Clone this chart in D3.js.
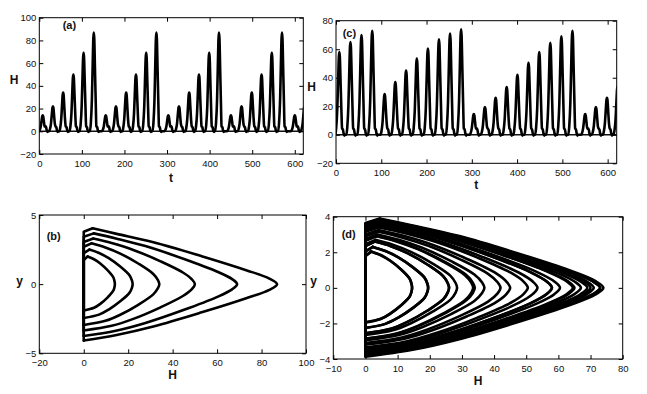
<!DOCTYPE html>
<html>
<head>
<meta charset="UTF-8">
<title>H time series and phase plots</title>
<script src="https://d3js.org/d3.v7.min.js"></script>
<style>
  body { margin: 0; background: #fff; }
  svg { display: block; font-family: "Liberation Sans", Arial, sans-serif; }
  .tick text { font-size: 9.5px; fill: #111; }
  .tick line { stroke: #000; stroke-width: 1; }
  .lab { font-size: 12px; font-weight: bold; fill: #111; }
  .tag { font-size: 11px; font-weight: bold; fill: #111; }
  .trace { fill: none; stroke: #000; stroke-width: 2.6; stroke-linejoin: round; stroke-linecap: round; }
</style>
</head>
<body>
<svg width="647" height="394"></svg>
<script>
// (a) spike times and peak heights of H
const aTimes = [8, 32, 56, 80, 104, 128, 156, 180, 204, 227, 251, 275,
                303, 328, 352, 375, 399, 422, 450, 475, 499, 522, 546, 570, 600, 623];
const aPeaks = [14, 22, 34, 50, 69, 87, 14, 22, 34, 50, 69, 87,
                14, 22, 34, 50, 69, 87, 14, 22, 34, 50, 69, 87, 14, 22];

// (c) spike times and peak heights of H
const cTimes = [7.4, 31.9, 56.3, 80, 107.4, 131, 154.8, 178.5, 203, 227.4, 251.9, 276.3,
                304.4, 328.9, 352.6, 377, 400.7, 425.2, 448.9, 473.3, 497.8, 522.2,
                550.4, 574, 598.5, 622];
const cPeaks = [58, 65, 70, 73, 28.5, 37, 45, 53.5, 60.5, 67, 71, 74,
                14.5, 19.5, 26, 33.5, 42, 50.5, 58, 64.5, 69, 73, 14.5, 19.5, 26, 34];

// (b) loops: peak H, highest y, lowest y
const bPeaks = [14, 22, 34, 50, 69, 87];
const bTop = [2.0, 2.5, 2.95, 3.3, 3.67, 4.04];
const bBot = [-1.9, -2.45, -2.95, -3.35, -3.75, -4.08];

// (d) loops, one per spike of (c)
const dTop = [3.55, 3.7, 3.8, 3.86, 2.7, 3.0, 3.25, 3.45, 3.6, 3.72, 3.82, 3.9,
              2.03, 2.3, 2.6, 2.9, 3.15, 3.4, 3.55, 3.7, 3.78, 3.86, 2.05, 2.3, 2.6, 2.92];
const dBot = [-3.5, -3.65, -3.75, -3.82, -2.65, -2.95, -3.2, -3.4, -3.55, -3.68, -3.78, -3.87,
              -1.93, -2.25, -2.55, -2.85, -3.1, -3.35, -3.5, -3.62, -3.72, -3.82, -1.95, -2.25, -2.55, -2.87];

// spike shape: offsets from the peak time, fraction of the peak
const spikeDt = [-9, -7, -4.5, -2.8, -1.1, 0, 1.1, 2.8, 4.5];
const spikeFrac = [0, 0.08, 0.32, 0.64, 0.94, 1, 0.94, 0.62, 0.3];
// small shoulder after each spike (absolute H)
const tailDt = [6, 8, 9.5, 11, 12.5];
const tailH = [4.5, 3.5, 0.8, -0.6, 0];

// loop shape: |y| as fraction of the extreme y, H as fraction of the peak
const loopS = [0, 0.1, 0.25, 0.5, 0.75, 0.9, 1];
const loopRound = [1, 0.99, 0.95, 0.77, 0.53, 0.33, 0.124];   // small loops
const loopSharp = [1, 0.96, 0.84, 0.61, 0.36, 0.17, 0.046];   // large loops

const xTicksT = [0, 100, 200, 300, 400, 500, 600];

const svg = d3.select("svg");

const panels = {
  a: {left: 39.3, top: 17.7, w: 264, h: 136.3, x: [0, 620], y: [-20, 100],
      xt: xTicksT, yt: [-20, 0, 20, 40, 60, 80, 100]},
  b: {left: 39.3, top: 215, w: 266.7, h: 138.3, x: [-20, 100], y: [-5, 5],
      xt: [-20, 0, 20, 40, 60, 80, 100], yt: [-5, 0, 5]},
  c: {left: 336, top: 20.7, w: 280.7, h: 142.6, x: [0, 620], y: [-20, 80],
      xt: xTicksT, yt: [-20, 0, 20, 40, 60, 80]},
  d: {left: 333.3, top: 216.7, w: 289.4, h: 142.3, x: [-10, 80], y: [-4, 4],
      xt: [-10, 0, 10, 20, 30, 40, 50, 60, 70, 80], yt: [-4, -2, 0, 2, 4]}
};

function setup(key) {
  const p = panels[key];
  const g = svg.append("g").attr("transform", `translate(${p.left},${p.top})`);
  p.g = g;
  p.sx = d3.scaleLinear().domain(p.x).range([0, p.w]);
  p.sy = d3.scaleLinear().domain(p.y).range([p.h, 0]);

  g.append("clipPath").attr("id", "clip-" + key)
    .append("rect").attr("width", p.w).attr("height", p.h);
  p.plot = g.append("g").attr("clip-path", `url(#clip-${key})`);

  const ax = [
    d3.axisBottom(p.sx).tickValues(p.xt).tickSize(-4).tickPadding(5.8),
    d3.axisTop(p.sx).tickValues(p.xt).tickSize(-4).tickFormat(""),
    d3.axisLeft(p.sy).tickValues(p.yt).tickSize(-4).tickPadding(3),
    d3.axisRight(p.sy).tickValues(p.yt).tickSize(-4).tickFormat("")
  ];
  const pos = [[0, p.h], [0, 0], [0, 0], [p.w, 0]];
  ax.forEach((a, i) => {
    const ag = g.append("g").attr("transform", `translate(${pos[i][0]},${pos[i][1]})`).call(a);
    ag.select(".domain").remove();
  });
  g.append("rect").attr("width", p.w).attr("height", p.h)
    .attr("fill", "none").attr("stroke", "#000").attr("stroke-width", 1);
  return p;
}

function spikeSeries(times, peaks) {
  const pts = [];
  times.forEach((t0, i) => {
    spikeDt.forEach((dt, j) => pts.push([t0 + dt, peaks[i] * spikeFrac[j]]));
    tailDt.forEach((dt, j) => pts.push([t0 + dt, tailH[j]]));
  });
  return pts;
}

function drawSeries(p, times, peaks) {
  p.plot.append("line")
    .attr("x1", p.sx(0)).attr("x2", p.sx(620))
    .attr("y1", p.sy(0)).attr("y2", p.sy(0))
    .attr("stroke", "#111").attr("stroke-width", 1.4);
  const line = d3.line().x(d => p.sx(d[0])).y(d => p.sy(d[1])).curve(d3.curveMonotoneX);
  p.plot.append("path").attr("class", "trace").attr("d", line(spikeSeries(times, peaks)));
}

function drawLoops(p, peaks, tops, bots) {
  const curve = d3.line().x(d => p.sx(d[0])).y(d => p.sy(d[1])).curve(d3.curveCatmullRom.alpha(0.5));
  const straight = d3.line().x(d => p.sx(d[0])).y(d => p.sy(d[1]));
  peaks.forEach((pk, i) => {
    const m = Math.max(0, Math.min(1, (pk - 14) / 73));
    const f = loopS.map((s, j) => loopRound[j] * (1 - m) + loopSharp[j] * m);
    const pts = [];
    for (let j = loopS.length - 1; j >= 0; j--) pts.push([pk * f[j], tops[i] * loopS[j]]);
    for (let j = 1; j < loopS.length; j++) {
      pts.push([j === loopS.length - 1 ? 0 : pk * f[j], bots[i] * loopS[j]]);
    }
    const kink = pts[0];
    p.plot.append("path").attr("class", "trace")
      .attr("d", straight([[0, bots[i]], [0, tops[i] - 0.25], kink]));
    p.plot.append("path").attr("class", "trace").attr("d", curve(pts));
  });
}

const pa = setup("a"), pb = setup("b"), pc = setup("c"), pd = setup("d");
drawSeries(pa, aTimes, aPeaks);
drawSeries(pc, cTimes, cPeaks);
drawLoops(pb, bPeaks, bTop, bBot);
drawLoops(pd, cPeaks, dTop, dBot);

// labels
const labels = [
  ["H", 14, 83.5, "lab"], ["t", 171, 182, "lab"], ["(a)", 62.7, 28.5, "tag", "start"],
  ["y", 19.7, 284.5, "lab"], ["H", 172.7, 379, "lab"], ["(b)", 46.7, 240, "tag", "start"],
  ["H", 311.5, 90.5, "lab"], ["t", 476.3, 189, "lab"], ["(c)", 342.7, 36.5, "tag", "start"],
  ["y", 313.7, 284.5, "lab"], ["H", 478, 385, "lab"], ["(d)", 341.7, 238, "tag", "start"]
];
labels.forEach(l => {
  svg.append("text").attr("class", l[3]).attr("x", l[1]).attr("y", l[2])
    .attr("text-anchor", l[4] || "middle").text(l[0]);
});
</script>
</body>
</html>
